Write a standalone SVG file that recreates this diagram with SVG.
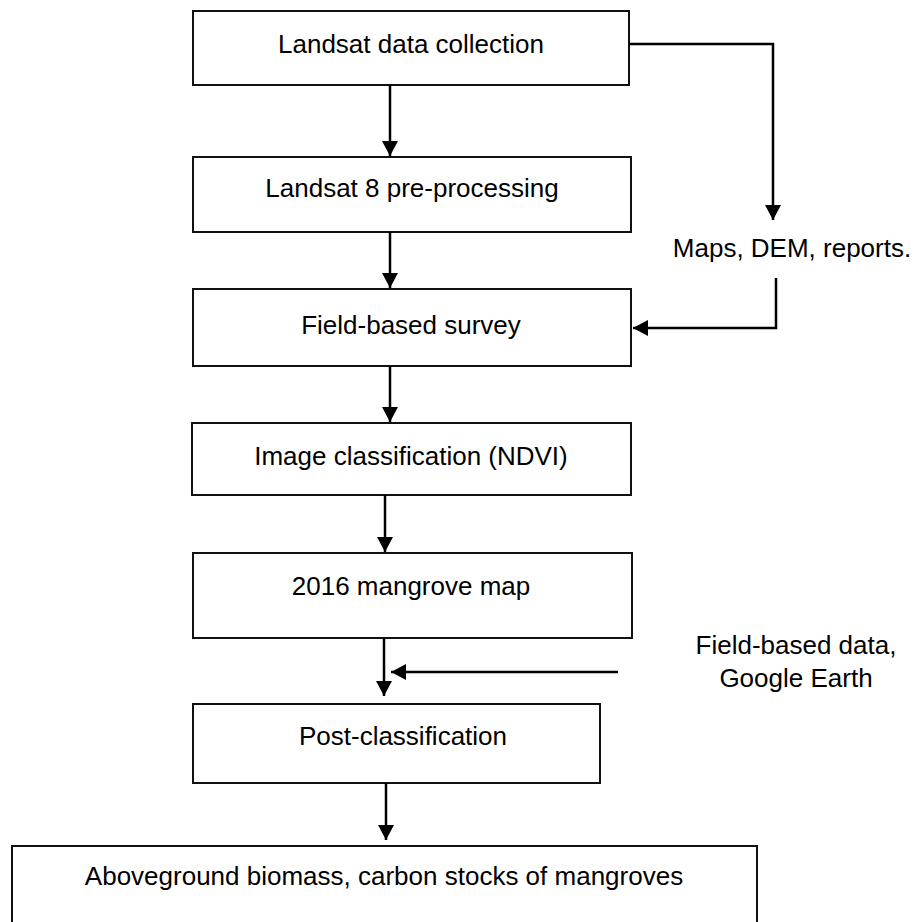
<svg xmlns="http://www.w3.org/2000/svg" width="915" height="922" viewBox="0 0 915 922">
<style>
.box{fill:#fff;stroke:#111;stroke-width:2}
.t{font-family:"Liberation Sans",Arial,sans-serif;font-size:26px;fill:#000;text-anchor:middle}
.c{fill:none;stroke:#000;stroke-width:2.5}
</style>
<defs>
<marker id="ah" markerWidth="16" markerHeight="16" viewBox="0 0 16 16" refX="15" refY="8" orient="auto" markerUnits="userSpaceOnUse">
<path d="M0,0 L15,8 L0,16 Z" fill="#000"/>
</marker>
</defs>
<rect width="915" height="922" fill="#fff"/>
<g id="n1"><rect class="box" x="193" y="11" width="436" height="74"/><text class="t" x="411" y="53">Landsat data collection</text></g>
<g id="n2"><rect class="box" x="193" y="157" width="438" height="75"/><text class="t" x="412" y="197">Landsat 8 pre-processing</text></g>
<g id="n3"><rect class="box" x="193" y="289" width="438" height="77"/><text class="t" x="411" y="334">Field-based survey</text></g>
<g id="n4"><rect class="box" x="192" y="423" width="439" height="72"/><text class="t" x="411" y="465">Image classification (NDVI)</text></g>
<g id="n5"><rect class="box" x="193" y="553" width="439" height="85"/><text class="t" x="411" y="595">2016 mangrove map</text></g>
<g id="n6"><rect class="box" x="193" y="704" width="407" height="79"/><text class="t" x="403" y="745">Post-classification</text></g>
<g id="n7"><rect class="box" x="12" y="846" width="745" height="85"/><text class="t" x="384" y="885">Aboveground biomass, carbon stocks of mangroves</text></g>
<g id="l1"><text class="t" x="792" y="257">Maps, DEM, reports.</text></g>
<g id="l2"><text class="t" x="796" y="654">Field-based data,</text><text class="t" x="796" y="687">Google Earth</text></g>
<g id="connectors">
<line class="c" x1="390" y1="85" x2="390" y2="156" marker-end="url(#ah)"/>
<line class="c" x1="390" y1="232" x2="390" y2="288" marker-end="url(#ah)"/>
<line class="c" x1="390" y1="366" x2="390" y2="422" marker-end="url(#ah)"/>
<line class="c" x1="385" y1="495" x2="385" y2="552" marker-end="url(#ah)"/>
<line class="c" x1="384" y1="638" x2="384" y2="696" marker-end="url(#ah)"/>
<line class="c" x1="386" y1="783" x2="386" y2="840" marker-end="url(#ah)"/>
<polyline class="c" points="629,44 773,44 773,220" marker-end="url(#ah)"/>
<polyline class="c" points="776,278 776,328 633,328" marker-end="url(#ah)"/>
<line class="c" x1="618" y1="672" x2="391" y2="672" marker-end="url(#ah)"/>
</g>
</svg>
